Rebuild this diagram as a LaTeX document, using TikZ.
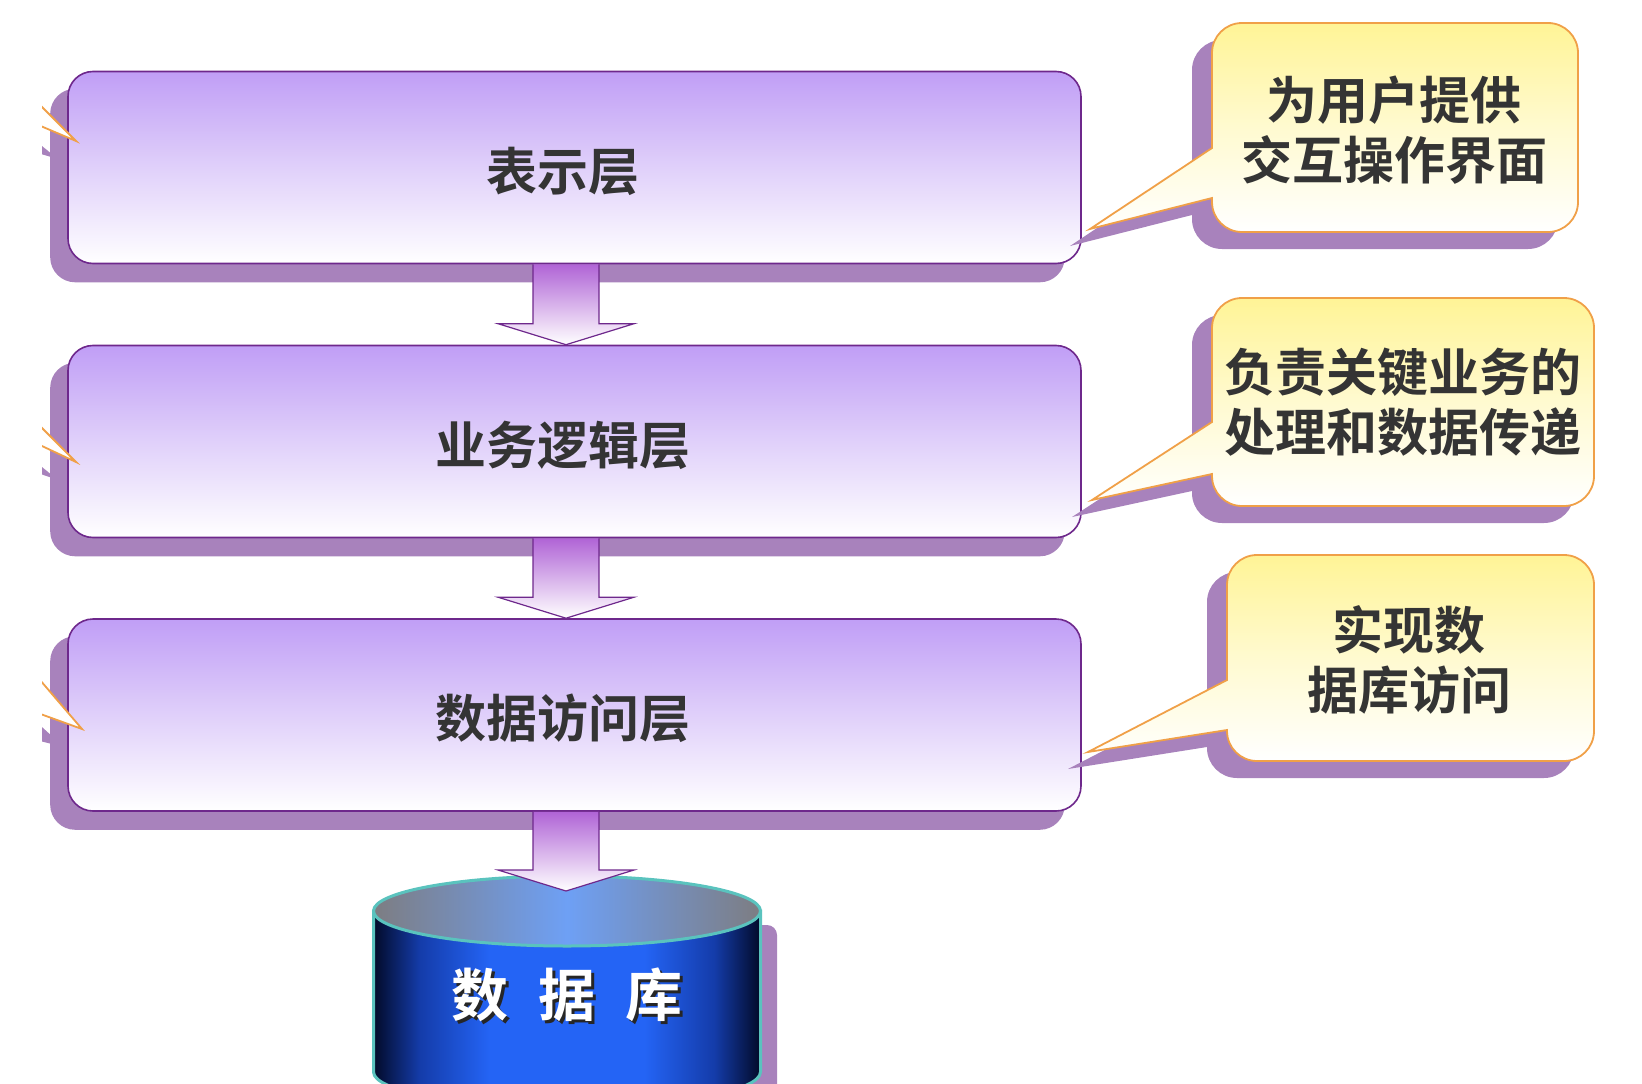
\documentclass[tikz,border=0pt]{standalone}
\usepackage{fontspec}
\newfontfamily\cjk[BoldFont={Noto Sans CJK SC Bold}]{Noto Sans CJK SC}
\usetikzlibrary{calc,backgrounds}
\definecolor{boxtop}{RGB}{192,158,246}
\definecolor{boxmid}{RGB}{224,208,250}
\definecolor{boxborder}{RGB}{110,40,140}
\definecolor{shadowp}{RGB}{168,130,188}
\definecolor{arrtop}{RGB}{176,100,214}
\definecolor{calltop}{RGB}{255,244,150}
\definecolor{callmid}{RGB}{255,250,208}
\definecolor{callborder}{RGB}{240,160,72}
\definecolor{txt}{RGB}{52,52,52}
\definecolor{dbdark}{RGB}{2,10,40}
\definecolor{dbmid}{RGB}{20,60,170}
\definecolor{dbblue}{RGB}{36,100,245}
\definecolor{dbgray}{RGB}{125,125,130}
\definecolor{dblight}{RGB}{110,160,245}
\definecolor{dbrim}{RGB}{90,195,190}
\pgfdeclarehorizontalshading{dbbody}{100bp}{color(0bp)=(dbdark); color(25bp)=(dbdark); color(31bp)=(dbmid); color(40bp)=(dbblue); color(60bp)=(dbblue); color(69bp)=(dbmid); color(75bp)=(dbdark); color(100bp)=(dbdark)}
\pgfdeclarehorizontalshading{dbtopsh}{100bp}{color(0bp)=(dbgray); color(25bp)=(dbgray); color(50bp)=(dblight); color(75bp)=(dbgray); color(100bp)=(dbgray)}
\newcommand\blockarr[2]{%
  \draw[blockarrow] ($(#1 -| #2)+(-33,0)$) -- ($(#2)+(-33,-21)$) -- ($(#2)+(-68,-21)$) -- (#2)
    -- ($(#2)+(68,-21)$) -- ($(#2)+(33,-21)$) -- ($(#1 -| #2)+(33,0)$);}
\newcommand\lbl[1]{\raisebox{0pt}[48pt][3pt]{#1}\kern24pt\null}
\begin{document}
\begin{tikzpicture}[x=1pt,y=-1pt,
  layerbox/.style={rectangle, rounded corners=25pt, draw=boxborder, line width=1.6pt,
    top color=boxtop, bottom color=white, middle color=boxmid,
    minimum width=1013pt, minimum height=192pt, inner sep=0pt,
    font=\cjk\bfseries\fontsize{51pt}{61pt}\selectfont, text=txt},
  boxshadow/.style={fill=shadowp, rounded corners=25pt},
  blockarrow/.style={draw=boxborder, line width=1.2pt, top color=arrtop, bottom color=white},
  callfill/.style={draw=callborder, line width=1.8pt, top color=calltop, bottom color=white, middle color=callmid},
  callshadow/.style={fill=shadowp},
  calltext/.style={font=\cjk\bfseries\fontsize{51pt}{60.5pt}\selectfont, text=txt, align=center, inner sep=0pt},
  dbtext/.style={font=\cjk\bfseries\fontsize{57pt}{60pt}\selectfont, text=white, inner sep=0pt},
  stubfill/.style={draw=callborder, line width=1.8pt, fill=white},
]
\useasboundingbox (0,0) rectangle (1642,1084);
\clip (0,0) rectangle (1642,1084);

% layer boxes
\node[layerbox] (L1) at (574.5,167.5) {\lbl{表示层}};
\node[layerbox] (L2) at (574.5,441.5) {\lbl{业务逻辑层}};
\node[layerbox] (L3) at (574.5,715) {\lbl{数据访问层}};

\begin{scope}[on background layer]
  \foreach \n in {L1,L2,L3}
    \fill[boxshadow] ($(\n.south west)+(-17,18)$) rectangle ($(\n.north east)+(-17,18)$);
  % pointer stubs entering from the left edge
  \begin{scope}
    \clip (42,0) rectangle (200,1084);
    \fill[callshadow] (0,112) -- (58,159) -- (0,142) -- cycle;
    \fill[callshadow] (0,433) -- (58,480) -- (0,460) -- cycle;
    \fill[callshadow] (0,689) -- (64,747) -- (0,731) -- cycle;
  \end{scope}
\end{scope}
\begin{scope}
  \clip (42,0) rectangle (200,1084);
  \draw[stubfill] (10,75) -- (76,141) -- (10,113);
  \draw[stubfill] (10,396) -- (76,462) -- (10,431);
  \draw[stubfill] (10,645) -- (82,729) -- (10,703);
\end{scope}

% arrow tips
\coordinate (t1) at ($(L2.north)+(-8.5,0)$);
\coordinate (t2) at ($(L3.north)+(-8.5,0)$);
\coordinate (t3) at (566,891);

% database cylinder
\fill[shadowp, rounded corners=10pt] (740,925) rectangle (777,1110);
\path[shading=dbbody, draw=dbrim, line width=3pt] (373.5,911) -- (373.5,1072)
  arc[start angle=180, end angle=360, x radius=193.5pt, y radius=35pt] -- (760.5,911) -- cycle;
\path[shading=dbtopsh, draw=dbrim, line width=3pt] (567,911) ellipse[x radius=193.5pt, y radius=35pt];
\node[dbtext, text=black!85] (dbshadow) at (570,998) {数\hspace{30pt}据\hspace{30pt}库};
\node[dbtext] (db) at (567,995) {数\hspace{30pt}据\hspace{30pt}库};

\blockarr{L1.south}{t1}
\blockarr{L2.south}{t2}
\blockarr{L3.south}{t3}

% callouts: shadows
\begin{scope}[shift={(-20,17)}]
  \fill[callshadow] (1212,148) [rounded corners=30pt] -- (1212,23) -- (1578,23) -- (1578,232) -- (1212,232) [sharp corners] -- (1212,198) -- (1090,229) -- cycle;
  \fill[callshadow] (1212,422) [rounded corners=30pt] -- (1212,298) -- (1594,298) -- (1594,506) -- (1212,506) [sharp corners] -- (1212,474) -- (1092,500) -- cycle;
  \fill[callshadow] (1227,680) [rounded corners=30pt] -- (1227,555) -- (1594,555) -- (1594,761) -- (1227,761) [sharp corners] -- (1227,730) -- (1088,752) -- cycle;
\end{scope}
% callouts
\path[callfill] (1212,148) [rounded corners=30pt] -- (1212,23) -- (1578,23) -- (1578,232) -- (1212,232) [sharp corners] -- (1212,198) -- (1090,229) -- cycle;
\path[callfill] (1212,422) [rounded corners=30pt] -- (1212,298) -- (1594,298) -- (1594,506) -- (1212,506) [sharp corners] -- (1212,474) -- (1092,500) -- cycle;
\path[callfill] (1227,680) [rounded corners=30pt] -- (1227,555) -- (1594,555) -- (1594,761) -- (1227,761) [sharp corners] -- (1227,730) -- (1088,752) -- cycle;

\node[calltext] (c1) at (1394,130) {为用户提供\\交互操作界面};
\node[calltext] (c2) at (1403,402) {负责关键业务的\\处理和数据传递};
\node[calltext] (c3) at (1409,660) {实现数\\据库访问};
\end{tikzpicture}
\end{document}
